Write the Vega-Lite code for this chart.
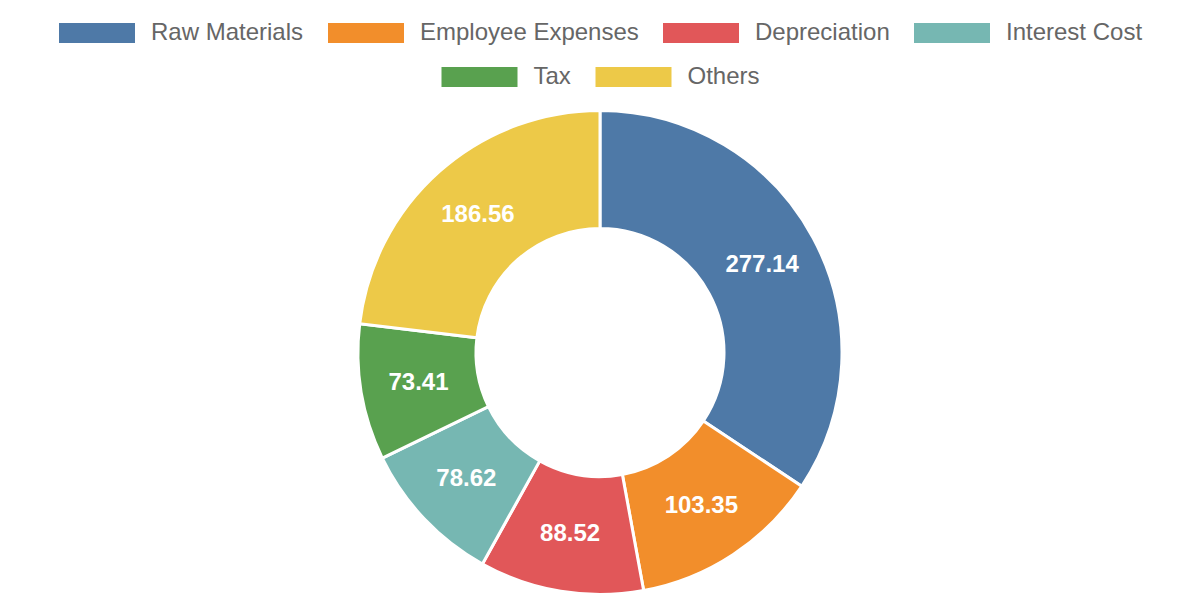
{
  "$schema": "https://vega.github.io/schema/vega-lite/v6.json",
  "width": 1200,
  "height": 600,
  "autosize": {"type": "fit", "contains": "padding"},
  "padding": {"top": 21, "bottom": 0, "left": 0, "right": 0},
  "data": {
    "values": [
      {"category": "Raw Materials", "amount": 277.14, "order": 1},
      {"category": "Employee Expenses", "amount": 103.35, "order": 2},
      {"category": "Depreciation", "amount": 88.52, "order": 3},
      {"category": "Interest Cost", "amount": 78.62, "order": 4},
      {"category": "Tax", "amount": 73.41, "order": 5},
      {"category": "Others", "amount": 186.56, "order": 6}
    ]
  },
  "encoding": {
    "theta": {"field": "amount", "type": "quantitative", "stack": true},
    "order": {"field": "order", "type": "quantitative"}
  },
  "layer": [
    {
      "mark": {"type": "arc", "outerRadius": 242, "innerRadius": 124, "stroke": "white", "strokeWidth": 3},
      "encoding": {
        "color": {
          "field": "category",
          "type": "nominal",
          "sort": null,
          "scale": {
            "domain": ["Raw Materials", "Employee Expenses", "Depreciation", "Interest Cost", "Tax", "Others"],
            "range": ["#4e79a7", "#f28e2b", "#e15759", "#76b7b2", "#59a14f", "#edc948"]
          },
          "legend": {"title": null, "values": ["Raw Materials", "Employee Expenses", "Depreciation", "Interest Cost"]}
        }
      }
    },
    {
      "mark": {"type": "arc", "outerRadius": 242, "innerRadius": 124, "opacity": 0},
      "encoding": {
        "fill": {
          "field": "category",
          "type": "nominal",
          "sort": null,
          "scale": {
            "domain": ["Tax", "Others"],
            "range": ["#59a14f", "#edc948"]
          },
          "legend": {"title": null, "symbolOpacity": 1}
        }
      }
    },
    {
      "mark": {"type": "text", "radius": 184, "color": "white", "fontSize": 24, "fontWeight": "bold", "font": "Liberation Sans"},
      "encoding": {
        "text": {"field": "amount", "type": "quantitative", "format": ".2f"}
      }
    }
  ],
  "config": {
    "view": {"stroke": null},
    "legend": {
      "orient": "top",
      "direction": "horizontal",
      "symbolType": "M-1,-1H6.6V1H-1Z",
      "symbolSize": 400,
      "symbolStrokeWidth": 0,
      "symbolOpacity": 1,
      "labelFont": "Liberation Sans",
      "labelFontSize": 24,
      "labelColor": "#666666",
      "labelOffset": 70,
      "labelLimit": 400,
      "columnPadding": 22,
      "offset": 16,
      "layout": {"top": {"anchor": "middle", "direction": "vertical", "center": true, "margin": 20}}
    }
  }
}
